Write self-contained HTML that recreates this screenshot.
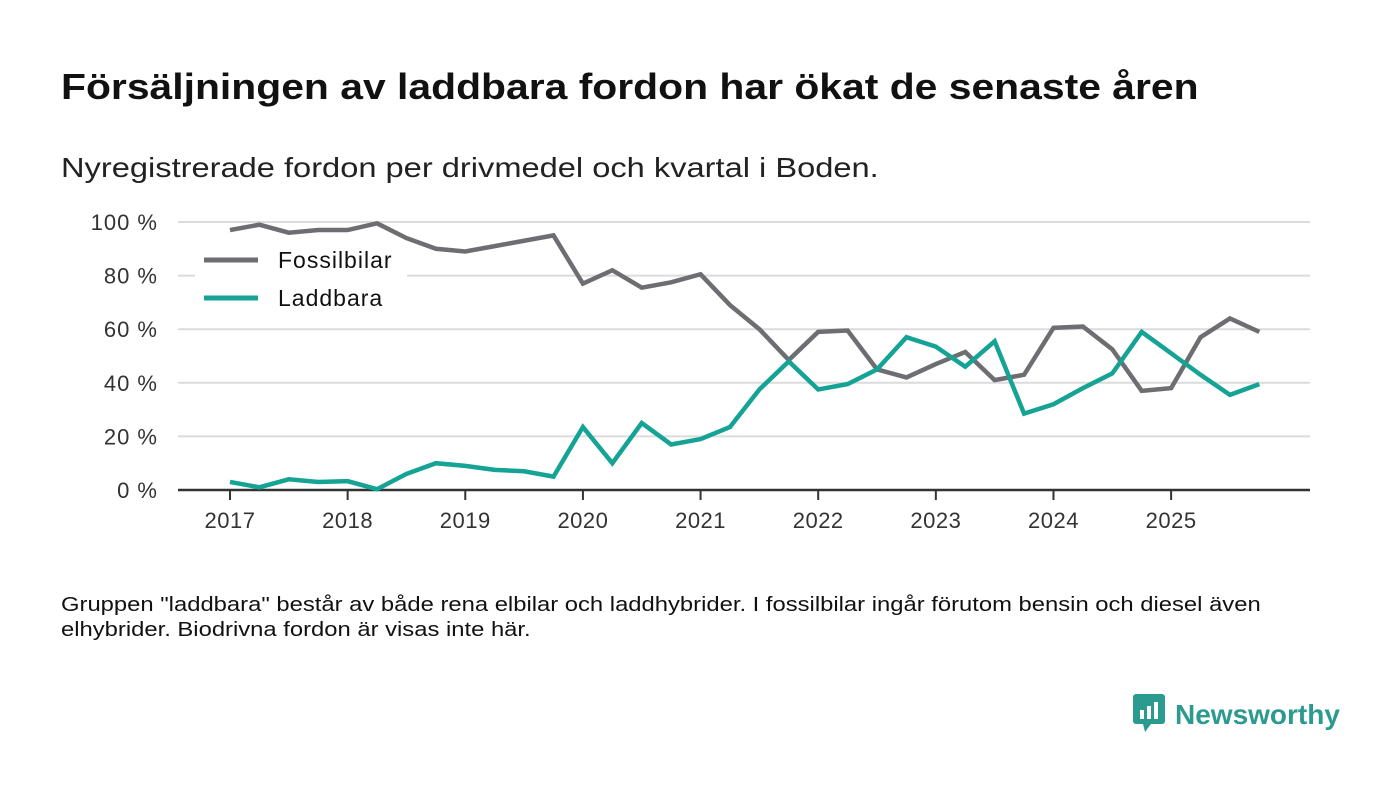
<!DOCTYPE html>
<html><head><meta charset="utf-8"><style>
body{margin:0;width:1400px;height:793px;background:#fff;font-family:"Liberation Sans","DejaVu Sans",sans-serif;overflow:hidden;position:relative}
#title{position:absolute;left:61px;top:66px;font-size:36px;font-weight:bold;color:#111;margin:0;white-space:nowrap;transform:scaleX(1.135);transform-origin:0 0}
#sub{position:absolute;left:61px;top:152px;font-size:28px;color:#222;white-space:nowrap;transform:scaleX(1.165);transform-origin:0 0}
#note{position:absolute;left:61px;top:593px;font-size:20px;line-height:25px;color:#111;white-space:nowrap;transform:scaleX(1.19);transform-origin:0 0}
#logo{position:absolute;left:1133px;top:692px;font-size:28px;font-weight:bold;color:#2b9a8f}
svg{position:absolute;left:0;top:0}
</style></head><body>
<h1 id="title">Försäljningen av laddbara fordon har ökat de senaste åren</h1>
<div id="sub">Nyregistrerade fordon per drivmedel och kvartal i Boden.</div>
<svg id="chart" width="1400" height="793"></svg>
<div id="note">Gruppen "laddbara" består av både rena elbilar och laddhybrider. I fossilbilar ingår förutom bensin och diesel även<br>elhybrider. Biodrivna fordon är visas inte här.</div>
<div id="logo"><svg width="34" height="40" style="position:static;vertical-align:-8px;margin-right:8px"><rect x="0" y="2" width="32" height="30" rx="3" fill="#2b9a8f"/><polygon points="10,32 18,32 12,40" fill="#2b9a8f"/><rect x="7" y="18" width="4" height="9" fill="#fff"/><rect x="14" y="14" width="4" height="13" fill="#fff"/><rect x="21" y="10" width="4" height="17" fill="#fff"/></svg>Newsworthy</div>
<script>
const yearLabels=["2017","2018","2019","2020","2021","2022","2023","2024","2025"];
const yTicks=[0,20,40,60,80,100];
const fossil=[97,99,96,97,97,99.5,94,90,89,91,93,95,77,82,75.5,77.5,80.5,69,60,48.5,59,59.5,45,42,47,51.5,41,43,60.5,61,52.5,37,38,57,64,59];
const laddbara=[3,1,4,3,3.3,0.3,6,10,9,7.5,7,5,23.5,10,25,17,19,23.5,37.5,48,37.5,39.5,45,57,53.5,46,55.5,28.5,32,38,43.5,59,51,43,35.5,39.5];
const svg=document.getElementById('chart');const NS='http://www.w3.org/2000/svg';
const X=i=>230+i*29.41, Y=v=>490-v*2.68;
function mk(t,a){const e=document.createElementNS(NS,t);for(const k in a)e.setAttribute(k,a[k]);svg.appendChild(e);return e;}
yTicks.forEach(v=>{
 if(v>0){const g=mk('line',{x1:178,x2:1310,y1:Y(v),y2:Y(v),stroke:'#dcdcdc','stroke-width':2});
 
 }
 const t=mk('text',{x:158,y:Y(v)+8,'text-anchor':'end','font-size':22,fill:'#333','letter-spacing':1});t.textContent=v+' %';
 
 
});
const ax=mk('line',{x1:178,x2:1310,y1:490,y2:490,stroke:'#333','stroke-width':2.5});


yearLabels.forEach((y,i)=>{
 const x=X(i*4);mk('line',{x1:x,x2:x,y1:490,y2:500,stroke:'#333','stroke-width':2});
 const t=mk('text',{x:x,y:528,'text-anchor':'middle','font-size':22,fill:'#333','letter-spacing':0.5});t.textContent=y;
 
 
});
function line(d,c,n){const p=mk('polyline',{points:d.map((v,i)=>X(i)+','+Y(v)).join(' '),fill:'none',stroke:c,'stroke-width':4.5,'stroke-linejoin':'miter'});
 
 }
line(fossil,'#6e6d72','fossilbilar-line');line(laddbara,'#14a395','laddbara-line');
const lb=mk('rect',{x:195,y:242,width:212,height:75,fill:'#fff'});


[['Fossilbilar','#6e6d72',260],['Laddbara','#14a395',298]].forEach(([n,c,y])=>{
 mk('line',{x1:204,x2:258,y1:y,y2:y,stroke:c,'stroke-width':5});
 const t=mk('text',{x:278,y:y+8,'font-size':23,fill:'#111','letter-spacing':1});t.textContent=n;
 
 
});
</script>
</body></html>
